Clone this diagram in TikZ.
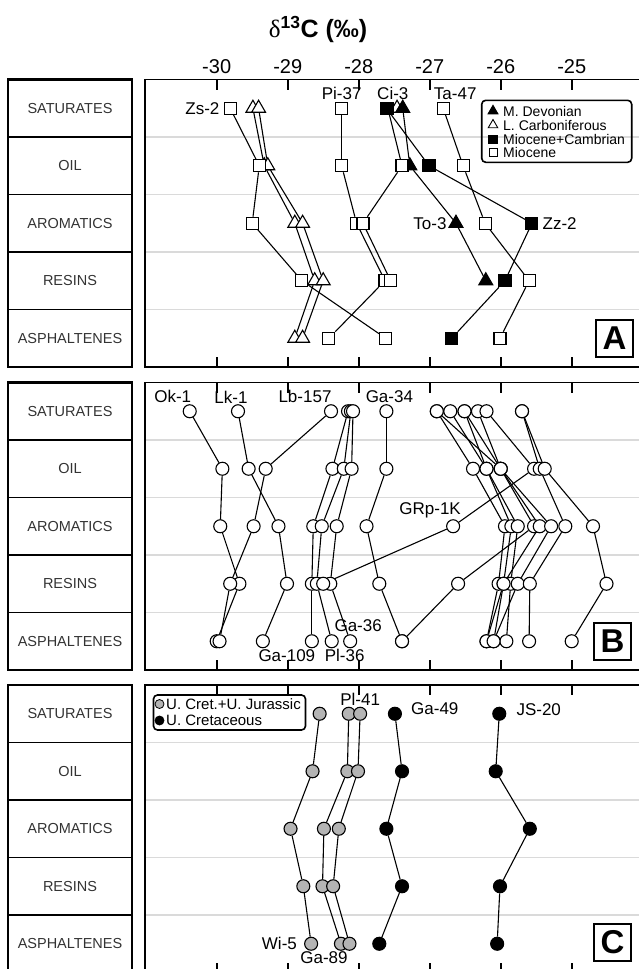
\documentclass[tikz,border=0pt]{standalone}
\usepackage{fontspec}
\setmainfont{Liberation Sans}
\newfontfamily\greekfont{Liberation Serif}
\usetikzlibrary{positioning,shapes.geometric,backgrounds}
\pgfdeclarelayer{grid}
\pgfdeclarelayer{lines}
\pgfsetlayers{grid,lines,main}
\definecolor{markgray}{RGB}{180,180,180}
\definecolor{gridgray}{RGB}{218,218,218}
\tikzset{%
  sample sq/.style={%
    rectangle, draw, fill=white, line width=1.1pt,
    minimum size=12pt, inner sep=0pt
  },
  sample sq black/.style={%
    sample sq, fill=black
  },
  sample tri/.style={%
    regular polygon, regular polygon sides=3, draw, fill=white,
    line width=1.1pt, minimum size=16pt, inner sep=0pt
  },
  sample tri black/.style={%
    sample tri, fill=black
  },
  sample dot/.style={%
    circle, draw, fill=white, line width=1.1pt,
    minimum size=13pt, inner sep=0pt
  },
  sample dot gray/.style={%
    sample dot, fill=markgray
  },
  sample dot black/.style={%
    sample dot, fill=black
  }
}
\tikzset{%
  sample line/.style={%
    line width=1.1pt
  },
  sample label/.style={%
    font=\fontsize{17}{19}\selectfont, inner sep=1pt
  },
  fraction box/.style={%
    draw, line width=1.8pt, minimum width=123.4pt, minimum height=57.5pt,
    inner sep=0pt, font=\fontsize{14.5}{16}\selectfont, text=black!80
  },
  panel frame/.style={%
    line width=1.6pt
  },
  grid line/.style={%
    gridgray, line width=1.4pt
  },
  panel tag/.style={%
    draw, line width=2pt, minimum width=37pt, minimum height=37pt,
    inner sep=0pt, font=\fontsize{33}{33}\selectfont\bfseries
  },
  key box/.style={%
    draw, line width=1.6pt, rounded corners=4pt, inner sep=0pt
  },
  key text/.style={%
    font=\fontsize{14}{15}\selectfont, inner sep=0pt, anchor=west
  }
}
% one sample: name, marker style, panel top, delta values from SATURATES down
\newcommand{\drawsample}[4]{%
  \foreach \v [count=\i] in {#4} {%
    \node [#2] (#1-\i) at ({2346.7+71*(\v)},{#3+28.75+57.5*(\i-1)}) {};
    \ifnum\i>1
      \pgfmathtruncatemacro{\j}{\i-1}
      \begin{pgfonlayer}{lines}
        \draw [sample line] (#1-\j) -- (#1-\i);
      \end{pgfonlayer}
    \fi
  }%
}
\begin{document}
\begin{tikzpicture}[x=1pt,y=-1pt]
  \useasboundingbox (0,0) rectangle (639,969);
  \node [font=\fontsize{25}{27}\selectfont] (title) at (318,29)
    {{\greekfont δ}\textbf{\textsuperscript{13}C (‰)}};
  \foreach \v in {-30,-29,-28,-27,-26,-25}
    \node [font=\fontsize{20}{22}\selectfont] (num\v) at ({2346.7+71*(\v)},67) {\v};

  % panels, fraction column, ticks
  \foreach \p/\ptop in {A/79.5,B/382.5,C/685} {
    \foreach \name [count=\k] in {SATURATES,OIL,AROMATICS,RESINS,ASPHALTENES}
      \node [fraction box] (\p-row\k) at (70,{\ptop+57.5*\k-28.75}) {\name};
    \draw [line width=2.2pt] (8.3,\ptop) rectangle (131.7,{\ptop+287.5});
    \draw [panel frame] (145,\ptop) rectangle (700,{\ptop+287.5});
    \begin{pgfonlayer}{grid}
      \foreach \k in {1,...,4}
        \draw [grid line] (146,{\ptop+57.5*\k}) -- (639,{\ptop+57.5*\k});
    \end{pgfonlayer}
    \foreach \v in {-30,-29,-28,-27,-26,-25} {
      \draw [panel frame] ({2346.7+71*(\v)},\ptop) -- ++(0,10);
      \draw [panel frame] ({2346.7+71*(\v)},{\ptop+287.5}) -- ++(0,-10);
    }
  }

  % A
  \drawsample{lca}{sample tri}{79.5}{-29.49,-29.33,-28.90,-28.62,-28.90}
  \drawsample{lcb}{sample tri}{79.5}{-29.41,-29.28,-28.79,-28.50,-28.79}
  \drawsample{zs}{sample sq}{79.5}{-29.81,-29.40,-29.50,-28.80,-27.62}
  \drawsample{pi}{sample sq}{79.5}{-28.24,-28.24,-28.03,-27.63,-28.42}
  \drawsample{ta}{sample sq}{79.5}{-26.81,-26.53,-26.22,-25.60,-26.01}
  \drawsample{lcc}{sample tri}{79.5}{-27.46}
  \drawsample{to}{sample tri black}{79.5}{-27.38,-27.28,-26.63,-26.21}
  \drawsample{ci}{sample sq}{79.5}{-27.59,-27.39,-27.94,-27.55}
  \drawsample{zz}{sample sq black}{79.5}{-27.61,-27.01,-25.56,-25.94,-26.69}
  \node [sample label, left=3pt of zs-1] {Zs-2};
  \node [sample label, above=1pt of pi-1] {Pi-37};
  \node [sample label, above=1pt of ci-1, xshift=5pt] {Ci-3};
  \node [sample label, above=1pt of ta-1, xshift=12pt] {Ta-47};
  \node [sample label, left=3pt of to-3] {To-3};
  \node [sample label, right=3pt of zz-3] {Zz-2};
  \node [key box, minimum width=150pt, minimum height=62pt] (keyA) at (556.7,131.3) {};
  \node [sample tri black, minimum size=11pt] (keyA1) at (493,111) {};
  \node [sample tri, minimum size=11pt, line width=0.9pt] (keyA2) at (493,125) {};
  \node [sample sq black, minimum size=8pt] (keyA3) at (493,139.5) {};
  \node [sample sq, minimum size=8pt, line width=0.9pt] (keyA4) at (493,152.5) {};
  \node [key text] at (503,111) {M. Devonian};
  \node [key text] at (503,125) {L. Carboniferous};
  \node [key text] at (503,139.5) {Miocene+Cambrian};
  \node [key text] at (503,152.5) {Miocene};
  \node [panel tag] (tagA) at (614.5,338.5) {A};

  % B
  \drawsample{ok}{sample dot}{382.5}{-30.38,-29.92,-29.95,-29.68,-30.00}
  \drawsample{lk}{sample dot}{382.5}{-29.70,-29.55,-29.13,-29.01,-29.35}
  \drawsample{lb}{sample dot}{382.5}{-28.39,-29.31,-29.48,-29.81,-29.96}
  \drawsample{ma}{sample dot}{382.5}{-28.15,-28.37,-28.64,-28.66,-28.66}
  \drawsample{mb}{sample dot}{382.5}{-28.11,-28.21,-28.52,-28.59,-28.38}
  \drawsample{mc}{sample dot}{382.5}{-28.08,-28.10,-28.31,-28.40,-28.12}
  \drawsample{gf}{sample dot}{382.5}{-27.61,-27.61,-27.89,-27.71,-27.39}
  \drawsample{ra}{sample dot}{382.5}{-26.90,-26.39,-25.94,-26.03,-26.20}
  \drawsample{rb}{sample dot}{382.5}{-26.71,-26.20,-25.85,-25.96,-26.10}
  \drawsample{rc}{sample dot}{382.5}{-26.51,-26.20,-25.76,-25.86,-25.92}
  \drawsample{rd}{sample dot}{382.5}{-26.90,-26.00,-25.53,-26.60,-27.39}
  \drawsample{re}{sample dot}{382.5}{-26.51,-26.00,-25.45,-25.96,-26.20}
  \drawsample{rf}{sample dot}{382.5}{-26.32,-26.00,-25.29,-25.76,-26.10}
  \drawsample{gr}{sample dot}{382.5}{-26.20,-25.53,-26.67,-28.50}
  \drawsample{rg}{sample dot}{382.5}{-25.70,-25.45,-25.09,-25.59,-25.60}
  \drawsample{rh}{sample dot}{382.5}{-25.70,-25.38,-24.70,-24.51,-25.00}
  \node [sample label, above=0pt of ok-1, xshift=-17pt] {Ok-1};
  \node [sample label, above=0pt of lk-1, xshift=-7pt] {Lk-1};
  \node [sample label, above=0pt of lb-1, xshift=-26pt] {Lb-157};
  \node [sample label, above=0pt of gf-1, xshift=3pt] {Ga-34};
  \node [sample label, above=0pt of gr-3, xshift=-23pt] {GRp-1K};
  \node [sample label, above=1pt of mc-5, xshift=8pt] {Ga-36};
  \node [sample label, below=0pt of lk-5, xshift=24pt] {Ga-109};
  \node [sample label, below=0pt of mb-5, xshift=13pt] {Pl-36};
  \node [panel tag] (tagB) at (612.5,641) {B};

  % C
  \drawsample{wi}{sample dot gray}{685}{-28.55,-28.65,-28.96,-28.78,-28.67}
  \drawsample{gn}{sample dot gray}{685}{-28.14,-28.16,-28.49,-28.51,-28.25}
  \drawsample{pl}{sample dot gray}{685}{-27.98,-28.01,-28.28,-28.36,-28.13}
  \drawsample{gt}{sample dot black}{685}{-27.49,-27.39,-27.61,-27.39,-27.71}
  \drawsample{js}{sample dot black}{685}{-26.02,-26.07,-25.59,-26.01,-26.05}
  \node [sample label, above=0pt of pl-1] {Pl-41};
  \node [sample label, right=8pt of gt-1, yshift=5pt] {Ga-49};
  \node [sample label, right=9pt of js-1, yshift=4pt] {JS-20};
  \node [sample label, left=6pt of wi-5] {Wi-5};
  \node [sample label, below=0pt of gn-5, xshift=-17pt] {Ga-89};
  \node [key box, minimum width=152pt, minimum height=35pt] (keyC) at (229.5,712.5) {};
  \node [sample dot gray, minimum size=9pt, line width=0.8pt] (keyC1) at (159.5,704) {};
  \node [sample dot black, minimum size=9pt, line width=0.8pt] (keyC2) at (159.5,720.5) {};
  \node [key text, font=\fontsize{15}{16}\selectfont] at (166,704) {U. Cret.+U. Jurassic};
  \node [key text, font=\fontsize{15}{16}\selectfont] at (166,720.5) {U. Cretaceous};
  \node [panel tag] (tagC) at (612.5,942) {C};
\end{tikzpicture}
\end{document}
